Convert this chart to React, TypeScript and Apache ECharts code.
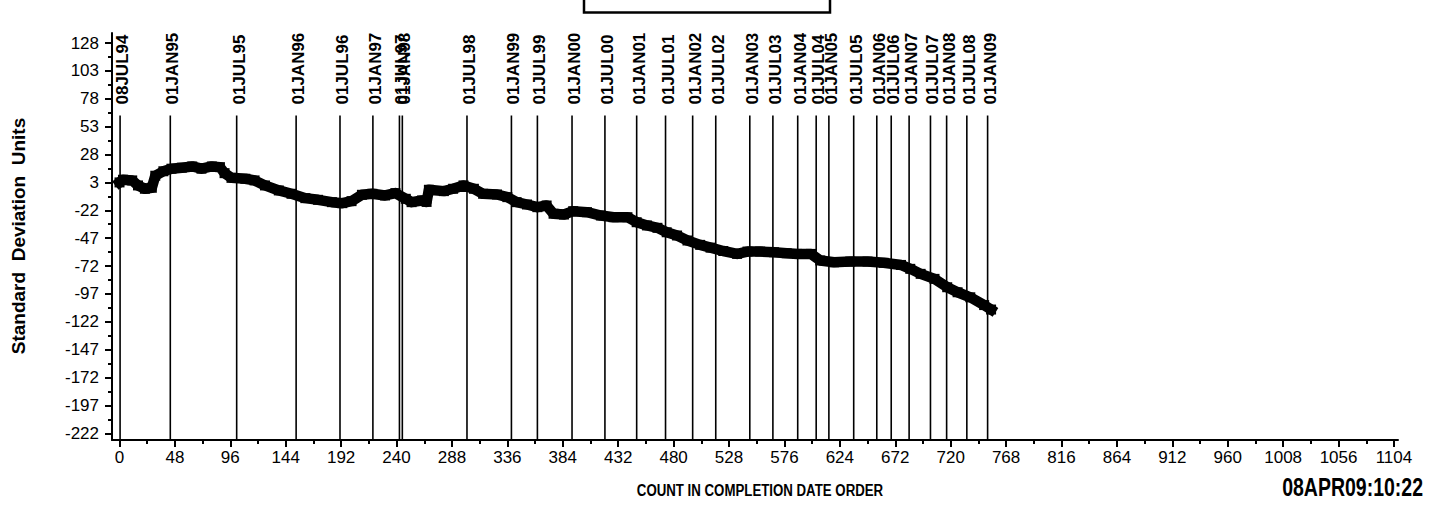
import React, { useEffect, useRef } from "react";
import * as echarts from "echarts";

const X_TICKS = [0, 48, 96, 144, 192, 240, 288, 336, 384, 432, 480, 528, 576, 624, 672, 720, 768, 816, 864, 912, 960, 1008, 1056, 1104];
const X_MINOR = [24, 72, 120, 168, 216, 264, 312, 360, 408, 456, 504, 552, 600, 648, 696, 744, 792, 840, 888, 936, 984, 1032, 1080];
const Y_TICKS = [-222, -197, -172, -147, -122, -97, -72, -47, -22, 3, 28, 53, 78, 103, 128];
const Y_MINOR = [-209.5, -184.5, -159.5, -134.5, -109.5, -84.5, -59.5, -34.5, -9.5, 15.5, 40.5, 65.5, 90.5, 115.5];

const DATE_LABELS = [
  "08JUL94", "01JAN95", "01JUL95", "01JAN96", "01JUL96", "01JAN97", "01JUL97", "01JAN98",
  "01JUL98", "01JAN99", "01JUL99", "01JAN00", "01JUL00", "01JAN01", "01JUL01", "01JAN02",
  "01JUL02", "01JAN03", "01JUL03", "01JAN04", "01JUL04", "01JAN05", "01JUL05", "01JAN06",
  "01JUL06", "01JAN07", "01JUL07", "01JAN08", "01JUL08", "01JAN09",
];
const DATE_X = [
  0.5, 44, 101.5, 153, 191, 219.5, 242.5, 245,
  301, 339.5, 362, 392, 420.5, 448, 473, 496.5,
  516.5, 546, 566, 587.5, 603.5, 614.5, 636, 656,
  668.5, 684, 702.5, 716.5, 734, 752,
];

const SERIES_X = [
  0, 3, 11, 16, 22, 28, 31, 38, 45, 54, 63, 71, 80, 87, 91, 97, 109, 117, 126, 138,
  149, 161, 172, 184, 193, 201, 210, 219, 230, 239, 248, 253, 262, 266, 268, 281, 289, 298, 307, 315,
  327, 336, 344, 353, 362, 370, 376, 385, 393, 405, 417, 428, 440, 448, 457, 466, 474, 483, 492, 503,
  512, 523, 535, 544, 555, 567, 578, 587, 599, 607, 619, 633, 648, 662, 677, 685, 694, 706, 717, 726,
  737, 749, 755,
];
const SERIES_Y = [
  3, 5.4, 4.8, 0.3, -2.7, -1.8, 9, 13, 15.3, 16.2, 17.3, 15.3, 17.3, 16.7, 11.3, 7.1, 6.3, 4.8, 0.3, -4.2,
  -7.2, -11.1, -12.6, -14.7, -15.6, -13.8, -8.1, -7.2, -8.7, -6.6, -11.7, -14.7, -13.2, -14.5, -3.6, -4.8, -2.7, 0.3, -2.7, -7.2,
  -7.8, -10.2, -14.7, -16.8, -19.2, -17.7, -25.1, -25.8, -22.8, -23.7, -26.7, -28.2, -28.2, -32.7, -35.6, -37.7, -41.7, -44.6, -49.1, -53,
  -55.5, -58.5, -61.1, -59, -59, -59.6, -60.5, -61.1, -61.1, -67, -68.6, -68, -68, -69.1, -71, -74.5, -79, -83.5, -91, -95.5,
  -100, -107, -111,
];

const X_MIN = -6.5;
const X_MAX = 1107.5;
const Y_MIN = -228;
const Y_MAX = 137;
const REF_LINE_TOP = 63;

const TICK_FONT = "'Liberation Sans Narrow', 'Liberation Sans', Arial, sans-serif";
const BOLD_FONT = "'Liberation Sans', Arial, sans-serif";

export default function App() {
  const ref = useRef<HTMLDivElement>(null);

  useEffect(() => {
    if (!ref.current) return;
    const chart = echarts.init(ref.current, undefined, { renderer: "svg" });

    const lineData = SERIES_X.map((x, i) => [x, SERIES_Y[i]]);
    const refData = DATE_X.map((x) => [x, REF_LINE_TOP]);
    const plain = (v: number) => String(v);

    const option: any = {
      animation: false,
      backgroundColor: "#ffffff",
      grid: { left: 112, right: 31, top: 33, bottom: 72, containLabel: false },
      xAxis: [
        {
          type: "value",
          min: X_MIN,
          max: X_MAX,
          position: "bottom",
          axisLine: { show: true, onZero: false, lineStyle: { color: "#000", width: 2 } },
          axisTick: { show: true, customValues: X_TICKS, length: 7, inside: false, lineStyle: { color: "#000", width: 2 } },
          axisLabel: {
            show: true,
            customValues: X_TICKS,
            formatter: plain,
            margin: 9,
            color: "#000",
            fontFamily: TICK_FONT,
            fontSize: 17,
          },
          splitLine: { show: false },
        },
        {
          type: "value",
          min: X_MIN,
          max: X_MAX,
          position: "bottom",
          offset: 0,
          axisLine: { show: false, onZero: false },
          axisTick: { show: true, customValues: X_MINOR, length: 4, lineStyle: { color: "#000", width: 2 } },
          axisLabel: { show: false },
          splitLine: { show: false },
        },
      ],
      yAxis: [
        {
          type: "value",
          min: Y_MIN,
          max: Y_MAX,
          position: "left",
          axisLine: { show: true, onZero: false, lineStyle: { color: "#000", width: 2 } },
          axisTick: { show: true, customValues: Y_TICKS, length: 7, lineStyle: { color: "#000", width: 2 } },
          axisLabel: {
            show: true,
            customValues: Y_TICKS,
            formatter: plain,
            margin: 13,
            color: "#000",
            fontFamily: TICK_FONT,
            fontSize: 17,
          },
          splitLine: { show: false },
        },
        {
          type: "value",
          min: Y_MIN,
          max: Y_MAX,
          position: "left",
          offset: 0,
          axisLine: { show: false, onZero: false },
          axisTick: { show: true, customValues: Y_MINOR, length: 4, lineStyle: { color: "#000", width: 2 } },
          axisLabel: { show: false },
          splitLine: { show: false },
        },
      ],
      series: [
        {
          type: "custom",
          xAxisIndex: 0,
          yAxisIndex: 0,
          clip: false,
          encode: { x: 0, y: 1 },
          data: refData,
          renderItem: (params: any, api: any) => {
            const x = api.value(0);
            const top = api.coord([x, REF_LINE_TOP]);
            const bottom = api.coord([x, Y_MIN]);
            return {
              type: "group",
              children: [
                {
                  type: "line",
                  shape: { x1: top[0], y1: top[1], x2: bottom[0], y2: bottom[1] },
                  style: { stroke: "#000", lineWidth: 1.6 },
                },
                {
                  type: "text",
                  x: top[0] + 2.5,
                  y: top[1] - 11,
                  rotation: Math.PI / 2,
                  style: {
                    text: DATE_LABELS[params.dataIndex],
                    fill: "#000",
                    fontFamily: BOLD_FONT,
                    fontWeight: "bold",
                    fontSize: 17,
                    align: "left",
                    verticalAlign: "middle",
                    textAlign: "left",
                    textVerticalAlign: "middle",
                  },
                },
              ],
            };
          },
          z: 2,
        },
        {
          type: "line",
          xAxisIndex: 0,
          yAxisIndex: 0,
          data: lineData,
          symbol: "rect",
          symbolSize: 10,
          showSymbol: true,
          itemStyle: { color: "#000" },
          lineStyle: { color: "#000", width: 10.5, join: "round", cap: "square" },
          z: 3,
        },
      ],
      graphic: [
        {
          type: "rect",
          shape: { x: 584, y: -10, width: 246, height: 22.5 },
          style: { fill: "none", stroke: "#000", lineWidth: 2.5 },
        },
        {
          type: "text",
          x: 18.5,
          y: 236,
          rotation: Math.PI / 2,
          style: {
            text: "Standard  Deviation  Units",
            fill: "#000",
            fontFamily: BOLD_FONT,
            fontWeight: "bold",
            fontSize: 19,
            align: "center",
            verticalAlign: "middle",
            textAlign: "center",
            textVerticalAlign: "middle",
          },
        },
        {
          type: "text",
          x: 760,
          y: 490,
          scaleX: 0.78,
          style: {
            text: "COUNT IN COMPLETION DATE ORDER",
            fill: "#000",
            fontFamily: BOLD_FONT,
            fontWeight: "bold",
            fontSize: 17,
            align: "center",
            verticalAlign: "middle",
            textAlign: "center",
            textVerticalAlign: "middle",
          },
        },
        {
          type: "text",
          x: 1423,
          y: 488,
          scaleX: 0.78,
          style: {
            text: "08APR09:10:22",
            fill: "#000",
            fontFamily: BOLD_FONT,
            fontWeight: "bold",
            fontSize: 25,
            align: "right",
            verticalAlign: "middle",
            textAlign: "right",
            textVerticalAlign: "middle",
          },
        },
      ],
    };

    chart.setOption(option);
    return () => chart.dispose();
  }, []);

  return (
    <div
      ref={ref}
      style={{ position: "fixed", left: 0, top: 0, width: 1429, height: 512, background: "#fff" }}
    />
  );
}
